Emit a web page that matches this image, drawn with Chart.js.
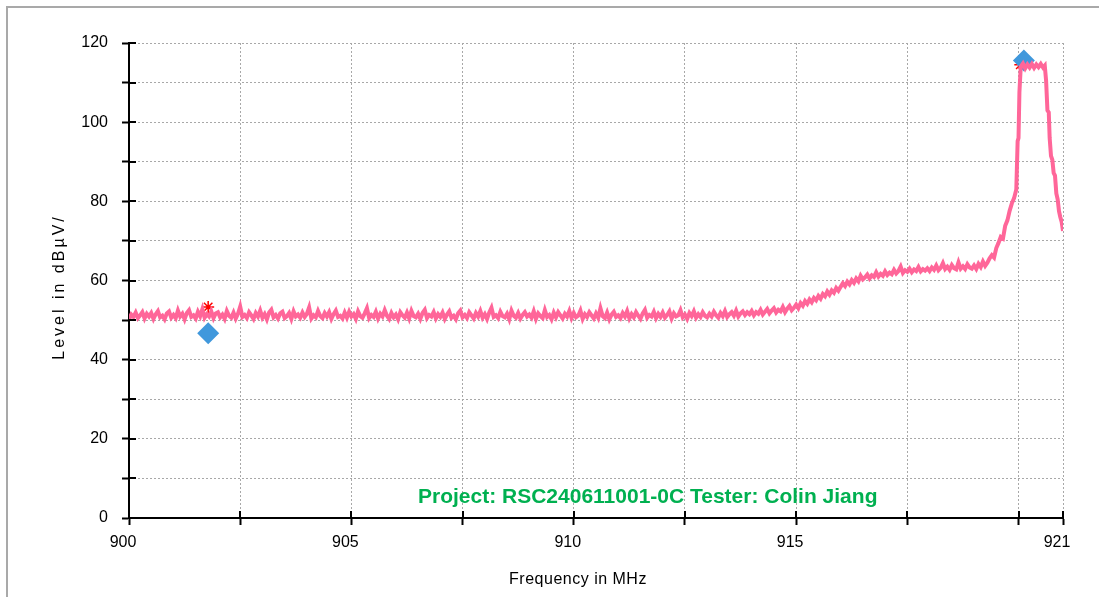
<!DOCTYPE html>
<html>
<head>
<meta charset="utf-8">
<script src="https://cdn.jsdelivr.net/npm/chart.js@4"></script>
<style>
  html, body { margin: 0; padding: 0; background: #fff; }
  #chart { display: block; }
</style>
</head>
<body>
<canvas id="chart" width="1099" height="597"></canvas>
<script>
// sweep frequencies (MHz)
var freq = [
  900, 900.05, 900.1, 900.15, 900.2, 900.25, 900.3, 900.35, 900.4, 900.45, 900.5, 900.55, 900.6, 900.65, 900.7, 900.75, 900.8, 900.85, 900.9, 900.95,
  901, 901.05, 901.1, 901.15, 901.2, 901.25, 901.3, 901.35, 901.4, 901.45, 901.5, 901.55, 901.6, 901.65, 901.7, 901.75, 901.8, 901.85, 901.9, 901.95,
  902, 902.05, 902.1, 902.15, 902.2, 902.25, 902.3, 902.35, 902.4, 902.45, 902.5, 902.55, 902.6, 902.65, 902.7, 902.75, 902.8, 902.85, 902.9, 902.95,
  903, 903.05, 903.1, 903.15, 903.2, 903.25, 903.3, 903.35, 903.4, 903.45, 903.5, 903.55, 903.6, 903.65, 903.7, 903.75, 903.8, 903.85, 903.9, 903.95,
  904, 904.05, 904.1, 904.15, 904.2, 904.25, 904.3, 904.35, 904.4, 904.45, 904.5, 904.55, 904.6, 904.65, 904.7, 904.75, 904.8, 904.85, 904.9, 904.95,
  905, 905.05, 905.1, 905.15, 905.2, 905.25, 905.3, 905.35, 905.4, 905.45, 905.5, 905.55, 905.6, 905.65, 905.7, 905.75, 905.8, 905.85, 905.9, 905.95,
  906, 906.05, 906.1, 906.15, 906.2, 906.25, 906.3, 906.35, 906.4, 906.45, 906.5, 906.55, 906.6, 906.65, 906.7, 906.75, 906.8, 906.85, 906.9, 906.95,
  907, 907.05, 907.1, 907.15, 907.2, 907.25, 907.3, 907.35, 907.4, 907.45, 907.5, 907.55, 907.6, 907.65, 907.7, 907.75, 907.8, 907.85, 907.9, 907.95,
  908, 908.05, 908.1, 908.15, 908.2, 908.25, 908.3, 908.35, 908.4, 908.45, 908.5, 908.55, 908.6, 908.65, 908.7, 908.75, 908.8, 908.85, 908.9, 908.95,
  909, 909.05, 909.1, 909.15, 909.2, 909.25, 909.3, 909.35, 909.4, 909.45, 909.5, 909.55, 909.6, 909.65, 909.7, 909.75, 909.8, 909.85, 909.9, 909.95,
  910, 910.05, 910.1, 910.15, 910.2, 910.25, 910.3, 910.35, 910.4, 910.45, 910.5, 910.55, 910.6, 910.65, 910.7, 910.75, 910.8, 910.85, 910.9, 910.95,
  911, 911.05, 911.1, 911.15, 911.2, 911.25, 911.3, 911.35, 911.4, 911.45, 911.5, 911.55, 911.6, 911.65, 911.7, 911.75, 911.8, 911.85, 911.9, 911.95,
  912, 912.05, 912.1, 912.15, 912.2, 912.25, 912.3, 912.35, 912.4, 912.45, 912.5, 912.55, 912.6, 912.65, 912.7, 912.75, 912.8, 912.85, 912.9, 912.95,
  913, 913.05, 913.1, 913.15, 913.2, 913.25, 913.3, 913.35, 913.4, 913.45, 913.5, 913.55, 913.6, 913.65, 913.7, 913.75, 913.8, 913.85, 913.9, 913.95,
  914, 914.05, 914.1, 914.15, 914.2, 914.25, 914.3, 914.35, 914.4, 914.45, 914.5, 914.55, 914.6, 914.65, 914.7, 914.75, 914.8, 914.85, 914.9, 914.95,
  915, 915.05, 915.1, 915.15, 915.2, 915.25, 915.3, 915.35, 915.4, 915.45, 915.5, 915.55, 915.6, 915.65, 915.7, 915.75, 915.8, 915.85, 915.9, 915.95,
  916, 916.05, 916.1, 916.15, 916.2, 916.25, 916.3, 916.35, 916.4, 916.45, 916.5, 916.55, 916.6, 916.65, 916.7, 916.75, 916.8, 916.85, 916.9, 916.95,
  917, 917.05, 917.1, 917.15, 917.2, 917.25, 917.3, 917.35, 917.4, 917.45, 917.5, 917.55, 917.6, 917.65, 917.7, 917.75, 917.8, 917.85, 917.9, 917.95,
  918, 918.05, 918.1, 918.15, 918.2, 918.25, 918.3, 918.35, 918.4, 918.45, 918.5, 918.55, 918.6, 918.65, 918.7, 918.75, 918.8, 918.85, 918.9, 918.95,
  919, 919.05, 919.1, 919.15, 919.2, 919.25, 919.3, 919.35, 919.4, 919.45, 919.5, 919.55, 919.6, 919.65, 919.7, 919.75, 919.8, 919.85, 919.9, 919.95,
  919.98, 920, 920.02, 920.05, 920.1, 920.15, 920.2, 920.25, 920.3, 920.35, 920.4, 920.45, 920.5, 920.55, 920.59,
  920.62, 920.65, 920.68, 920.7, 920.73, 920.76, 920.79, 920.82, 920.85, 920.88, 920.91, 920.94, 920.97, 921
];

var level = [
  50.2, 51.4, 50.8, 51.9, 50.5, 51.2, 52.0, 50.4, 51.6, 50.9, 51.8, 50.3, 51.5, 52.3, 50.7, 51.1, 50.2, 51.7, 52.2, 50.6,
  51.3, 50.5, 52.4, 50.9, 51.6, 50.2, 51.8, 52.5, 50.8, 51.2, 50.4, 52.1, 51.0, 52.8, 50.6, 51.5, 50.9, 52.2, 50.5, 51.7,
  52.0, 50.7, 51.4, 50.3, 52.3, 51.1, 50.6, 51.9, 50.4, 51.6, 53.4, 50.8, 51.3, 50.5, 52.0, 51.2, 50.3, 51.8, 50.9, 52.4,
  50.6, 51.5, 50.2, 51.9, 52.6, 50.7, 51.3, 50.4, 51.7, 52.1, 50.5, 51.0, 51.8, 50.3, 52.2, 50.9, 51.4, 50.6, 51.9, 50.8,
  51.6, 53.2, 50.4, 51.2, 50.7, 52.3, 51.0, 50.5, 51.8, 50.9, 52.0, 50.3, 51.5, 52.4, 50.8, 51.1, 50.4, 51.9, 50.6, 52.1,
  50.9, 51.5, 50.3, 52.2, 51.0, 50.6, 51.7, 53.0, 50.5, 51.3, 50.8, 52.1, 50.4, 51.6, 50.9, 52.5, 51.1, 50.3, 51.8, 50.7,
  51.4, 50.2, 52.0, 51.2, 50.6, 51.9, 50.4, 52.3, 51.0, 50.7, 51.6, 50.3, 51.8, 52.6, 50.5, 51.3, 50.9, 52.0, 50.4, 51.5,
  50.8, 51.9, 50.3, 51.4, 52.2, 50.6, 51.1, 50.2, 51.7, 52.4, 50.7, 51.3, 50.5, 52.0, 51.2, 50.4, 51.8, 50.9, 52.3, 50.6,
  51.5, 50.3, 51.9, 53.1, 50.8, 51.2, 50.5, 52.1, 51.0, 50.7, 51.6, 50.2, 52.4, 51.1, 50.6, 51.8, 50.4, 51.3, 52.0, 50.9,
  51.4, 50.6, 52.2, 50.3, 51.7, 51.0, 50.5, 52.5, 50.8, 51.3, 50.2, 51.9, 50.7, 52.0, 51.2, 50.4, 51.6, 50.9, 52.3, 50.5,
  51.8, 50.7, 51.1, 52.4, 50.3, 51.5, 50.8, 52.0, 51.2, 50.4, 51.7, 50.6, 53.0, 51.0, 50.5, 51.9, 50.2, 51.4, 52.1, 50.8,
  51.2, 50.5, 51.8, 50.9, 52.3, 50.4, 51.5, 50.7, 52.0, 51.1, 50.3, 51.7, 52.6, 50.6, 51.3, 50.9, 52.1, 50.5, 51.6, 50.8,
  51.9, 50.6, 51.3, 52.2, 50.4, 51.7, 50.9, 51.2, 52.5, 50.7, 51.4, 50.3, 51.8, 51.0, 52.2, 50.6, 51.5, 50.8, 52.0, 51.1,
  50.7, 51.6, 50.9, 52.1, 51.2, 50.6, 51.8, 51.0, 52.3, 50.8, 51.5, 52.0, 51.1, 52.4, 50.9, 51.7, 52.2, 51.3, 52.0, 51.5,
  52.3, 51.2, 52.0, 51.6, 52.6, 51.4, 52.1, 52.8, 51.7, 52.4, 53.0, 51.9, 52.6, 52.2, 53.3, 52.0, 52.9, 53.6, 52.5, 53.1,
  53.9, 53.0, 54.3, 53.6, 54.8, 54.1, 55.2, 54.5, 55.6, 55.0, 56.1, 55.4, 56.6, 56.0, 57.2, 56.4, 57.5, 56.9, 58.1, 57.4,
  58.4, 59.3, 58.6, 59.7, 59.0, 60.1, 59.4, 60.5, 59.8, 61.2, 60.3, 60.8, 61.5, 60.5, 61.3, 60.9, 62.1, 61.0, 61.7, 61.2,
  62.3, 61.4, 62.0, 61.6, 62.7, 61.8, 62.4, 63.5, 61.9, 62.6, 62.2, 63.0, 62.1, 62.8, 62.4, 63.4, 62.3, 62.9, 62.5, 63.1,
  62.4, 63.3, 62.7, 63.8, 62.6, 63.2, 64.4, 62.9, 63.5, 62.7, 63.9, 63.1, 62.8, 64.6, 63.0, 63.6, 62.9, 64.1, 63.3, 63.0,
  63.8, 62.9, 64.2, 63.4, 64.8, 63.7, 64.5, 65.6, 66.4, 65.8, 68.2, 69.5, 71.0, 70.6, 73.8, 75.2, 77.6, 79.5, 80.8, 83.0,
  95.2, 96.0, 107.5, 114.0, 114.8, 113.6, 114.6, 113.8, 114.7, 113.7, 114.6, 113.9, 114.7, 113.8, 114.3,
  110.5, 103.0, 102.5, 96.0, 91.5, 90.5, 87.2, 86.5, 82.0, 80.5, 77.5, 76.0, 74.8, 72.5
];

// marker readings
var diamondFreq = [901.78, 920.12];
var diamondLevel = [46.7, 115.6];
var starFreq = [901.78, 920.04];
var starLevel = [53.3, 114.5];

var xTicks = [900, 902.5, 905, 907.5, 910, 912.5, 915, 917.5, 920, 921];
var xLabels = [900, 905, 910, 915, 921];
var yMin = 0, yMax = 120, yStep = 10, yLabelStep = 20;

var yTitle = 'Level in dBµV/';
var xTitle = 'Frequency in MHz';
var note = 'Project: RSC240611001-0C Tester: Colin Jiang';

function zip(xs, ys) {
  return xs.map(function (x, i) { return { x: x, y: ys[i] }; });
}

var font = "Arial, 'Liberation Sans', sans-serif";

var decor = {
  id: 'decor',
  beforeDraw: function (chart) {
    var ctx = chart.ctx;
    ctx.save();
    ctx.fillStyle = '#fff';
    ctx.fillRect(0, 0, chart.width, chart.height);
    ctx.strokeStyle = '#a9a9a9';
    ctx.lineWidth = 2;
    ctx.beginPath();
    ctx.moveTo(7, chart.height);
    ctx.lineTo(7, 7);
    ctx.lineTo(chart.width, 7);
    ctx.stroke();
    ctx.restore();
  },
  afterDraw: function (chart) {
    var ctx = chart.ctx;
    var area = chart.chartArea;
    var xs = chart.scales.x, ys = chart.scales.y;
    ctx.save();
    // inner half of the tick marks
    ctx.strokeStyle = '#000';
    ctx.lineWidth = 2;
    ctx.beginPath();
    ys.ticks.forEach(function (t) {
      var p = Math.round(ys.getPixelForValue(t.value));
      ctx.moveTo(area.left, p);
      ctx.lineTo(area.left + 7, p);
    });
    xs.ticks.forEach(function (t) {
      var p = Math.round(xs.getPixelForValue(t.value));
      ctx.moveTo(p, area.bottom);
      ctx.lineTo(p, area.bottom - 7);
    });
    ctx.stroke();

    // axis titles
    ctx.fillStyle = '#000';
    ctx.font = '16px ' + font;
    ctx.textAlign = 'center';
    ctx.textBaseline = 'middle';
    ctx.letterSpacing = '0.5px';
    ctx.fillText(xTitle, 578, 580);
    ctx.translate(60, 287);
    ctx.rotate(-Math.PI / 2);
    ctx.letterSpacing = '3px';
    ctx.fillText(yTitle, 0, 0);
    ctx.restore();

    ctx.save();
    ctx.fillStyle = '#00b050';
    ctx.font = 'bold 21px ' + font;
    ctx.textAlign = 'left';
    ctx.textBaseline = 'alphabetic';
    ctx.fillText(note, 418, 503);
    ctx.restore();
  }
};

new Chart(document.getElementById('chart'), {
  type: 'line',
  data: {
    datasets: [
      {
        label: 'Level',
        data: zip(freq, level),
        borderColor: '#ff6699',
        backgroundColor: '#ff6699',
        borderWidth: 4,
        pointRadius: 0,
        tension: 0,
        order: 1
      },
      {
        label: 'Marker',
        data: zip(diamondFreq, diamondLevel),
        showLine: false,
        pointStyle: 'rectRot',
        pointRadius: 11,
        borderColor: '#4098dc',
        backgroundColor: '#4098dc',
        pointBorderWidth: 0,
        order: 2
      },
      {
        label: 'Peak',
        data: zip(starFreq, starLevel),
        showLine: false,
        pointStyle: 'star',
        pointRadius: 6,
        borderColor: '#ff0000',
        backgroundColor: '#ff0000',
        pointBorderWidth: 1.5,
        order: 3
      }
    ]
  },
  options: {
    responsive: false,
    animation: false,
    devicePixelRatio: 1,
    layout: { padding: { left: 0, top: 43, right: 36, bottom: 0 } },
    plugins: {
      legend: { display: false },
      title: { display: false },
      tooltip: { enabled: false }
    },
    scales: {
      x: {
        type: 'linear',
        min: 900,
        max: 921,
        afterBuildTicks: function (scale) {
          scale.ticks = xTicks.map(function (v) { return { value: v }; });
        },
        afterFit: function (scale) { scale.height = 79; },
        ticks: {
          autoSkip: false,
          maxRotation: 0,
          padding: 8,
          labelOffset: -6,
          color: '#000',
          font: { family: font, size: 16 },
          callback: function (v) { return xLabels.indexOf(v) >= 0 ? String(v) : ''; }
        },
        grid: {
          color: '#a8a8a8',
          lineWidth: 1,
          tickLength: 7,
          tickColor: '#000',
          tickWidth: 2,
          tickBorderDash: []
        },
        border: { display: true, color: '#000', width: 2, dash: [2, 2] }
      },
      y: {
        min: yMin,
        max: yMax,
        afterFit: function (scale) { scale.width = 129; },
        ticks: {
          stepSize: yStep,
          padding: 14,
          color: '#000',
          font: { family: font, size: 16 },
          callback: function (v) { return v % yLabelStep === 0 ? String(v) : ''; }
        },
        grid: {
          color: '#a8a8a8',
          lineWidth: 1,
          tickLength: 7,
          tickColor: '#000',
          tickWidth: 2,
          tickBorderDash: []
        },
        border: { display: true, color: '#000', width: 2, dash: [2, 2] }
      }
    }
  },
  plugins: [decor]
});
</script>
</body>
</html>
